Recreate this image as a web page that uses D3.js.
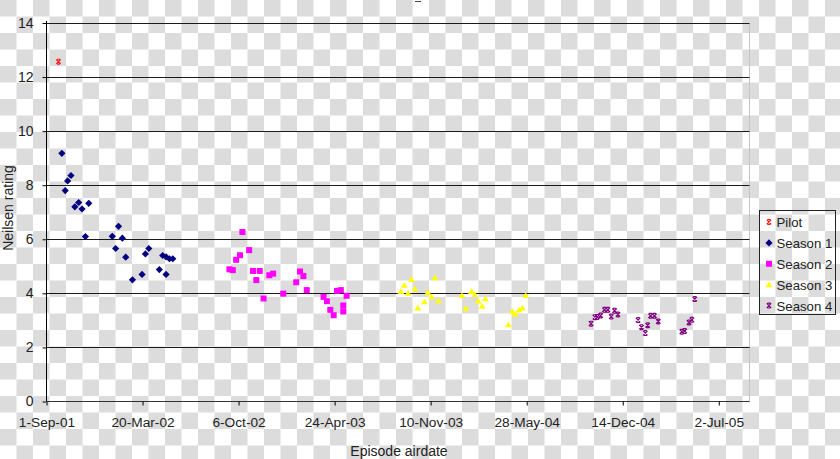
<!DOCTYPE html>
<html>
<head>
<meta charset="utf-8">
<script src="https://cdn.jsdelivr.net/npm/d3@7"></script>
<style>
  html, body { margin: 0; padding: 0; background: #fff; }
  svg { display: block; }
  text { font-family: "Liberation Sans", Arial, sans-serif; fill: #222; }
</style>
</head>
<body>
<svg id="chart" width="840" height="459"></svg>
<script>
// ---------- data ----------
const seriesNames = ["Pilot", "Season 1", "Season 2", "Season 3", "Season 4"];
const seriesColors = ["#ff1a1a", "#000080", "#ff00ff", "#ffff00", "#800080"];
const seriesShapes = ["star", "diamond", "square", "triangle", "star"];

const pilot = [["2001-09-26", 12.57]];
const season1 = [
  ["2001-10-03", 9.18], ["2001-10-10", 7.80], ["2001-10-15", 8.16], ["2001-10-22", 8.36],
  ["2001-10-30", 7.20], ["2001-11-07", 7.36], ["2001-11-14", 7.12], ["2001-11-21", 6.10],
  ["2001-11-28", 7.33], ["2002-01-16", 6.11], ["2002-01-23", 5.66], ["2002-01-29", 6.48],
  ["2002-02-06", 6.04], ["2002-02-13", 5.34], ["2002-02-27", 4.50], ["2002-03-19", 4.70],
  ["2002-03-26", 5.46], ["2002-04-02", 5.66], ["2002-04-24", 4.88], ["2002-05-01", 5.40],
  ["2002-05-08", 5.35], ["2002-05-08", 4.70], ["2002-05-15", 5.28], ["2002-05-22", 5.28]
];
const season2 = [
  ["2002-09-17", 4.89], ["2002-09-24", 4.86], ["2002-10-01", 5.24], ["2002-10-09", 5.41],
  ["2002-10-14", 6.27], ["2002-10-28", 5.60], ["2002-11-05", 4.83], ["2002-11-12", 4.49],
  ["2002-11-19", 4.83], ["2002-11-27", 3.81], ["2002-12-09", 4.67], ["2002-12-17", 4.73],
  ["2003-01-07", 3.99], ["2003-02-03", 4.41], ["2003-02-11", 4.81], ["2003-02-18", 4.64],
  ["2003-02-25", 4.12], ["2003-04-01", 3.87], ["2003-04-08", 3.71], ["2003-04-15", 3.39],
  ["2003-04-22", 3.19], ["2003-04-29", 4.09], ["2003-05-07", 4.12], ["2003-05-12", 3.55],
  ["2003-05-12", 3.33], ["2003-05-19", 3.91]
];
const season3 = [
  ["2003-09-09", 4.07], ["2003-09-16", 4.30], ["2003-09-24", 4.01], ["2003-10-01", 4.52],
  ["2003-10-08", 4.17], ["2003-10-14", 3.46], ["2003-10-28", 3.69], ["2003-11-04", 4.04],
  ["2003-11-12", 3.88], ["2003-11-19", 4.58], ["2003-11-26", 3.73], ["2004-01-14", 3.92],
  ["2004-01-22", 3.44], ["2004-02-03", 4.07], ["2004-02-10", 3.96], ["2004-02-17", 3.72],
  ["2004-02-25", 3.53], ["2004-03-03", 3.80], ["2004-04-20", 2.84], ["2004-04-28", 3.34],
  ["2004-05-04", 3.23], ["2004-05-12", 3.39], ["2004-05-19", 3.46], ["2004-05-26", 3.92]
];
const season4 = [
  ["2004-10-09", 2.88], ["2004-10-17", 3.12], ["2004-10-22", 3.13], ["2004-10-29", 3.18],
  ["2004-11-06", 3.39], ["2004-11-13", 3.39], ["2004-11-20", 3.14], ["2004-11-27", 3.36],
  ["2004-12-04", 3.22], ["2005-01-15", 3.01], ["2005-01-22", 2.75], ["2005-01-30", 2.53],
  ["2005-02-04", 2.82], ["2005-02-10", 3.17], ["2005-02-18", 3.17], ["2005-02-26", 2.96],
  ["2005-04-16", 2.58], ["2005-04-22", 2.61], ["2005-05-01", 2.92], ["2005-05-07", 3.02],
  ["2005-05-13", 3.79]
];
const allSeries = [pilot, season1, season2, season3, season4];

const xTickDates = ["2001-09-01", "2002-03-20", "2002-10-06", "2003-04-24",
                    "2003-11-10", "2004-05-28", "2004-12-14", "2005-07-02"];
const xTickLabels = ["1-Sep-01", "20-Mar-02", "6-Oct-02", "24-Apr-03",
                     "10-Nov-03", "28-May-04", "14-Dec-04", "2-Jul-05"];
const xDomain = ["2001-09-01", "2005-09-04"];
const yTicks = [0, 2, 4, 6, 8, 10, 12, 14];
const xTitle = "Episode airdate";
const yTitle = "Neilsen rating";

// ---------- layout ----------
const W = 840, H = 459;
const plot = { left: 46.5, right: 749.5, top: 23, bottom: 401.5 };
const parse = d3.utcParse("%Y-%m-%d");
const FONT = '"Liberation Sans", Arial, sans-serif';

const svg = d3.select("#chart");

// checkerboard background
const defs = svg.append("defs");
const cell = 16.5;
const pat = defs.append("pattern").attr("id", "checker")
  .attr("patternUnits", "userSpaceOnUse").attr("width", cell * 2).attr("height", cell * 2);
pat.append("rect").attr("width", cell * 2).attr("height", cell * 2).attr("fill", "#ffffff");
pat.append("rect").attr("x", 0).attr("y", 0).attr("width", cell).attr("height", cell).attr("fill", "#dcdcdc");
pat.append("rect").attr("x", cell).attr("y", cell).attr("width", cell).attr("height", cell).attr("fill", "#dcdcdc");
svg.append("rect").attr("width", W).attr("height", H).attr("fill", "url(#checker)");

// scales
const x = d3.scaleUtc().domain(xDomain.map(parse)).range([plot.left, plot.right]);
const y = d3.scaleLinear().domain([0, 14]).range([plot.bottom, plot.top]);

// plot area right border (faint)
svg.append("line")
  .attr("x1", plot.right).attr("x2", plot.right)
  .attr("y1", plot.top).attr("y2", plot.bottom)
  .attr("stroke", "#c4c4c4").attr("stroke-width", 1);

// gridlines
svg.append("g").selectAll("line").data(yTicks.filter(d => d > 0)).join("line")
  .attr("x1", plot.left).attr("x2", plot.right)
  .attr("y1", d => Math.round(y(d)) + 0.5).attr("y2", d => Math.round(y(d)) + 0.5)
  .attr("stroke", "#1a1a1a").attr("stroke-width", 1);

// y axis
const yAxis = d3.axisLeft(y).tickValues(yTicks).tickSize(4).tickPadding(9).tickFormat(d3.format("d"));
const gy = svg.append("g").attr("transform", `translate(${plot.left},0)`).call(yAxis);
gy.select(".domain").attr("stroke", "#000").attr("d", `M0,${plot.bottom}V${plot.top - 2}`);
gy.selectAll(".tick line").attr("stroke", "#000");
gy.selectAll(".tick text").attr("font-size", 14).attr("fill", "#222").attr("font-family", FONT);

// x axis
const xAxis = d3.axisBottom(x).tickValues(xTickDates.map(parse)).tickSize(4).tickPadding(12)
  .tickFormat((d, i) => xTickLabels[i]);
const gx = svg.append("g").attr("transform", `translate(0,${plot.bottom})`).call(xAxis);
gx.select(".domain").attr("stroke", "#333").attr("d", `M${plot.left},0H${plot.right}`);
gx.selectAll(".tick line").attr("stroke", "#000");
gx.selectAll(".tick text").attr("font-size", 13.7).attr("fill", "#222").attr("font-family", FONT);

// axis titles
svg.append("text").attr("x", (plot.left + plot.right) / 2 + 1).attr("y", 456)
  .attr("text-anchor", "middle").attr("font-size", 14).text(xTitle);
svg.append("text").attr("transform", `translate(12.5,208) rotate(-90)`)
  .attr("text-anchor", "middle").attr("font-size", 14).text(yTitle);

// cropped title remnant
svg.append("line").attr("x1", 415).attr("x2", 421).attr("y1", 1.5).attr("y2", 1.5)
  .attr("stroke", "#444").attr("stroke-width", 1);

// marker shapes
function shapePath(shape) {
  switch (shape) {
    case "diamond": return "M0,-3.6L3.6,0L0,3.6L-3.6,0Z";
    case "square": return "M-3,-3H3V3H-3Z";
    case "triangle": return "M0,-3.2L3.4,2.6L-3.4,2.6Z";
    case "star": return "M-2.2,-2.2L2.2,2.2M2.2,-2.2L-2.2,2.2M-1.5,-2.4H1.5M-1.5,2.4H1.5";
  }
}
function drawMarker(sel, i) {
  const shape = seriesShapes[i];
  const col = seriesColors[i];
  sel.attr("d", shapePath(shape));
  if (shape === "star") {
    sel.attr("fill", "none").attr("stroke", col).attr("stroke-width", 1.2);
  } else {
    sel.attr("fill", col).attr("stroke", "none");
  }
}

// points
allSeries.forEach((data, i) => {
  svg.append("g").selectAll("path").data(data).join("path")
    .attr("transform", d => `translate(${x(parse(d[0]))},${y(d[1])})`)
    .call(s => drawMarker(s, i));
});

// legend
const legend = { x: 759.5, y: 210.5, w: 76, h: 104, rowH: 20.9 };
svg.append("rect").attr("x", legend.x).attr("y", legend.y).attr("width", legend.w).attr("height", legend.h)
  .attr("fill", "none").attr("stroke", "#222").attr("stroke-width", 1);
const li = svg.append("g").selectAll("g").data(seriesNames).join("g")
  .attr("transform", (d, i) => `translate(${legend.x + 9.5},${legend.y + 11.5 + i * legend.rowH})`);
li.each(function (d, i) {
  d3.select(this).append("path").call(s => drawMarker(s, i));
});
li.append("text").attr("x", 7.5).attr("y", 5).attr("font-size", 13.2).text(d => d);
</script>
</body>
</html>
